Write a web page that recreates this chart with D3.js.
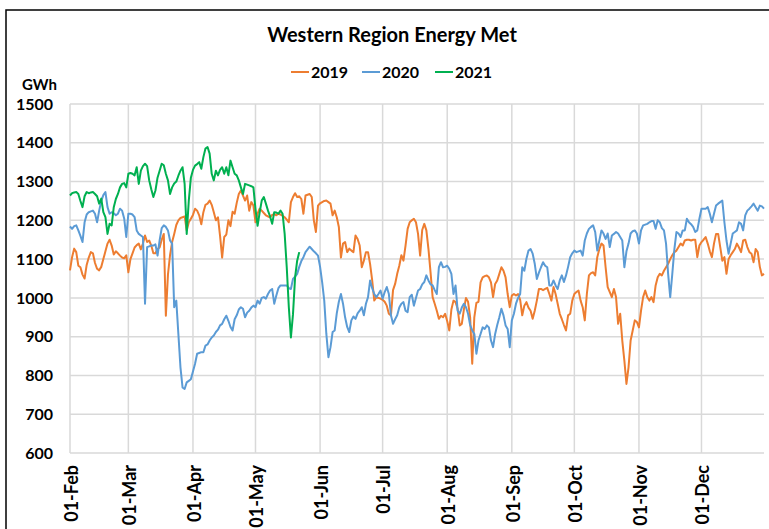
<!DOCTYPE html>
<html>
<head>
<meta charset="utf-8">
<script src="https://cdn.jsdelivr.net/npm/d3@7"></script>
<style>
  body { margin: 0; background: #fff; }
  svg { display: block; font-family: Lato, "Liberation Sans", sans-serif; }
</style>
</head>
<body>
<div id="chart"></div>
<script>
// series names and colours (legend order)
const seriesNames = ['2019', '2020', '2021']
const seriesColours = ['#ED7D31', '#5B9BD5', '#00B050']

const monthLabels = ['01-Feb', '01-Mar', '01-Apr', '01-May', '01-Jun', '01-Jul',
    '01-Aug', '01-Sep', '01-Oct', '01-Nov', '01-Dec']
const yTicks = [600, 700, 800, 900, 1000, 1100, 1200, 1300, 1400, 1500]

// daily energy met (GWh), starting 01-Feb
const values2019 = [
    1071, 1105, 1127, 1118, 1083, 1079, 1060, 1050, 1085, 1104,
    1118, 1115, 1090, 1075, 1071, 1080, 1100, 1120, 1140, 1150,
    1135, 1112, 1120, 1115, 1109, 1104, 1102, 1110, 1066, 1100,
    1115, 1130, 1136, 1140, 1125, 1140, 1161, 1144, 1148, 1135,
    1115, 1115, 1126, 1130, 1150, 1165, 954, 1060, 1110, 1144,
    1165, 1188, 1200, 1206, 1208, 1210, 1174, 1195, 1204, 1214,
    1230, 1225, 1213, 1190, 1221, 1240, 1243, 1251, 1240, 1221,
    1200, 1208, 1160, 1104, 1157, 1163, 1200, 1185, 1222, 1217,
    1245, 1268, 1277, 1264, 1251, 1264, 1225, 1247, 1238, 1195,
    1217, 1230, 1225, 1219, 1213, 1210, 1208, 1214, 1216, 1213,
    1217, 1215, 1212, 1208, 1202, 1195, 1247, 1260, 1270, 1260,
    1262, 1255, 1217, 1264, 1266, 1268, 1260, 1200, 1170, 1238,
    1244, 1247, 1250, 1251, 1247, 1243, 1213, 1225, 1208, 1183,
    1104, 1140, 1144, 1118, 1127, 1122, 1118, 1161, 1152, 1135,
    1079, 1096, 1118, 1118, 1087, 1045, 993, 1002, 1000, 998,
    995, 990, 980, 959, 955, 1020, 1036, 1062, 1083, 1110,
    1096, 1135, 1178, 1195, 1200, 1204, 1195, 1165, 1109, 1175,
    1191, 1174, 1126, 1066, 1002, 985, 967, 946, 954, 950,
    959, 940, 916, 970, 993, 989, 972, 929, 933, 970,
    1000, 990, 950, 830, 950, 987, 990, 1040, 1053, 1056,
    1058, 1053, 1040, 1002, 1036, 1045, 1062, 1079, 1070, 1053,
    1010, 976, 1006, 1010, 1006, 1010, 995, 955, 980, 989,
    975, 967, 946, 967, 993, 1023, 1023, 1020, 1023, 1026,
    1010, 993, 1028, 1010, 985, 959, 945, 930, 916, 955,
    959, 993, 1010, 1015, 1019, 993, 976, 942, 1010, 1058,
    1064, 1066, 1058, 1105, 1126, 1140, 1135, 1079, 1028, 1015,
    1002, 1023, 1002, 933, 959, 890, 838, 778, 821, 890,
    916, 942, 938, 924, 967, 1002, 1019, 1002, 993, 1002,
    989, 1032, 1053, 1062, 1058, 1070, 1079, 1088, 1100, 1110,
    1118, 1122, 1131, 1140, 1135, 1148, 1150, 1150, 1148, 1150,
    1150, 1105, 1135, 1144, 1150, 1157, 1140, 1120, 1105, 1140,
    1165, 1165, 1131, 1096, 1105, 1062, 1100, 1110, 1118, 1126,
    1140, 1130, 1118, 1148, 1150, 1131, 1118, 1114, 1092, 1126,
    1118, 1080, 1058, 1062
]

const values2020 = [
    1184, 1178, 1185, 1187, 1174, 1160, 1144, 1195, 1215, 1221,
    1223, 1225, 1217, 1195, 1225, 1250, 1265, 1273, 1234, 1217,
    1221, 1218, 1213, 1217, 1230, 1225, 1205, 1157, 1217, 1217,
    1215, 1208, 1174, 1165, 1161, 1157, 985, 1131, 1133, 1135,
    1135, 1138, 1109, 1148, 1180, 1187, 1183, 1174, 1148, 1140,
    976, 993, 907, 821, 769, 765, 782, 786, 790, 810,
    830, 856, 858, 860, 860, 877, 880, 890, 898, 903,
    912, 918, 929, 933, 945, 954, 941, 925, 916, 945,
    955, 970, 976, 972, 950, 962, 967, 975, 980, 976,
    993, 985, 1000, 1002, 998, 1010, 1019, 1023, 985, 1006,
    1025, 1032, 1032, 1032, 1032, 1025, 1023, 1049, 1055, 1062,
    1080, 1095, 1105, 1118, 1125, 1132, 1126, 1120, 1115, 1109,
    1080, 1040, 993, 907, 847, 873, 912, 916, 960, 990,
    1010, 985, 950, 925, 912, 942, 952, 946, 960, 967,
    976, 955, 985, 1002, 1045, 1025, 1010, 1002, 1010, 1019,
    998, 1015, 1028, 1010, 955, 933, 945, 955, 975, 985,
    989, 967, 963, 1002, 1008, 980, 1000, 1019, 1023, 1035,
    1041, 1058, 1045, 1035, 1032, 1020, 1010, 1079, 1092, 1079,
    1080, 1083, 1075, 1062, 1010, 1032, 967, 959, 975, 985,
    976, 959, 930, 916, 907, 856, 890, 907, 924, 920,
    929, 924, 890, 873, 907, 930, 950, 972, 955, 929,
    920, 873, 942, 959, 985, 1000, 1010, 1079, 1070, 1101,
    1122, 1126, 1114, 1088, 1049, 1065, 1079, 1092, 1083, 1079,
    1032, 1032, 1045, 1032, 1023, 1045, 1058, 1041, 1058, 1080,
    1105, 1115, 1122, 1118, 1120, 1122, 1109, 1148, 1166, 1178,
    1183, 1187, 1170, 1122, 1148, 1174, 1166, 1152, 1166, 1131,
    1161, 1165, 1170, 1166, 1157, 1148, 1079, 1120, 1140, 1166,
    1172, 1174, 1166, 1140, 1174, 1187, 1189, 1191, 1195, 1198,
    1198, 1178, 1200, 1195, 1180, 1174, 1140, 1062, 1002, 1062,
    1126, 1170, 1166, 1157, 1174, 1174, 1204, 1195, 1190, 1183,
    1170, 1174, 1204, 1230, 1230, 1230, 1234, 1217, 1195, 1217,
    1238, 1243, 1247, 1251, 1195, 1148, 1114, 1140, 1166, 1170,
    1174, 1195, 1191, 1174, 1213, 1225, 1230, 1236, 1243, 1234,
    1225, 1238, 1236, 1230
]

const values2021 = [
    1264, 1270, 1272, 1273, 1268, 1250, 1234, 1262, 1273, 1270,
    1272, 1273, 1268, 1262, 1243, 1256, 1221, 1208, 1165, 1191,
    1187, 1234, 1255, 1268, 1285, 1294, 1296, 1285, 1320, 1322,
    1320, 1316, 1337, 1294, 1328, 1340, 1346, 1340, 1303, 1280,
    1260, 1277, 1310, 1328, 1346, 1342, 1320, 1303, 1268, 1285,
    1295, 1300, 1315, 1328, 1337, 1294, 1165, 1251, 1310, 1330,
    1341, 1345, 1350, 1333, 1363, 1385, 1389, 1372, 1320, 1303,
    1328, 1316, 1330, 1337, 1320, 1337, 1316, 1354, 1337, 1320,
    1316, 1303, 1285, 1268, 1294, 1292, 1290, 1288, 1285, 1229,
    1186, 1220, 1251, 1260, 1243, 1225, 1210, 1191, 1221, 1220,
    1217, 1225, 1217, 1165, 1079, 976, 898, 958, 1053, 1096,
    1118
]

const allValues = [values2019, values2020, values2021]

const W = 769, H = 529
const margin = { top: 104, right: 5, bottom: 76, left: 70 }

// common calendar year for the x axis
const startDay = new Date(2019, 1, 1)
const endDay = new Date(2019, 11, 31)

let svg = d3.select('#chart')
    .append('svg')
    .attr('width', W)
    .attr('height', H)

svg.append('rect')
    .attr('width', W).attr('height', H)
    .attr('fill', '#fff')

// chart frame (cropped on the right and bottom)
svg.append('rect')
    .attr('x', 6).attr('y', 10)
    .attr('width', W + 20).attr('height', H + 20)
    .attr('fill', 'none')
    .attr('stroke', '#000')
    .attr('stroke-width', 1.5)

let x = d3.scaleTime()
    .domain([startDay, endDay])
    .range([margin.left, W - margin.right])

let y = d3.scaleLinear()
    .domain([600, 1500])
    .range([H - margin.bottom, margin.top])

let monthTicks = d3.timeMonth.range(startDay, endDay)

// gridlines
svg.append('g')
    .selectAll('line')
    .data(yTicks)
    .join('line')
    .attr('x1', margin.left)
    .attr('x2', W - margin.right)
    .attr('y1', d => y(d))
    .attr('y2', d => y(d))
    .attr('stroke', '#d9d9d9')
    .attr('stroke-width', 1.5)

svg.append('g')
    .selectAll('line')
    .data(monthTicks)
    .join('line')
    .attr('x1', d => x(d))
    .attr('x2', d => x(d))
    .attr('y1', y(1500))
    .attr('y2', y(600))
    .attr('stroke', '#d9d9d9')
    .attr('stroke-width', 1.5)

// y axis labels
let yAxis = svg.append('g')
    .attr('transform', `translate(${margin.left},0)`)
    .call(d3.axisLeft(y).tickValues(yTicks).tickSize(0).tickPadding(17)
        .tickFormat(d3.format('d')))
yAxis.select('.domain').remove()
yAxis.selectAll('text')
    .attr('font-family', 'Lato, sans-serif')
    .attr('font-size', 16)
    .attr('font-weight', 'bold')
    .attr('fill', '#000')

// x axis labels, rotated
let xAxis = svg.append('g')
    .attr('transform', `translate(0,${y(600)})`)
    .call(d3.axisBottom(x).tickValues(monthTicks).tickSize(0)
        .tickFormat((d, i) => monthLabels[i]))
xAxis.select('.domain').remove()
xAxis.selectAll('text')
    .attr('font-family', 'Lato, sans-serif')
    .attr('font-size', 18)
    .attr('font-weight', 'bold')
    .attr('fill', '#000')
    .attr('text-anchor', 'end')
    .attr('transform', 'rotate(-90)')
    .attr('x', -12)
    .attr('y', 1)
    .attr('dy', '0.35em')

// lines
let line = d3.line()
    .x((d, i) => x(d3.timeDay.offset(startDay, i)))
    .y(d => y(d))

svg.append('g')
    .selectAll('path')
    .data(allValues)
    .join('path')
    .attr('d', d => line(d))
    .attr('fill', 'none')
    .attr('stroke', (d, i) => seriesColours[i])
    .attr('stroke-width', 2)
    .attr('stroke-linejoin', 'round')

// title
svg.append('text')
    .attr('x', 392)
    .attr('y', 42)
    .attr('text-anchor', 'middle')
    .attr('font-size', 20)
    .attr('font-weight', 'bold')
    .text('Western Region Energy Met')

// unit label
svg.append('text')
    .attr('x', 22)
    .attr('y', 90)
    .attr('font-size', 15)
    .attr('font-weight', 'bold')
    .text('GWh')

// legend
let legendX = [291, 362, 435]
let legend = svg.append('g')
    .selectAll('g')
    .data(seriesNames)
    .join('g')
    .attr('transform', (d, i) => `translate(${legendX[i]},72)`)

legend.append('line')
    .attr('x1', 0).attr('x2', 18)
    .attr('stroke', (d, i) => seriesColours[i])
    .attr('stroke-width', 2)

legend.append('text')
    .attr('x', 20)
    .attr('dy', '0.35em')
    .attr('font-size', 16)
    .attr('font-weight', 'bold')
    .text(d => d)
</script>
</body>
</html>
